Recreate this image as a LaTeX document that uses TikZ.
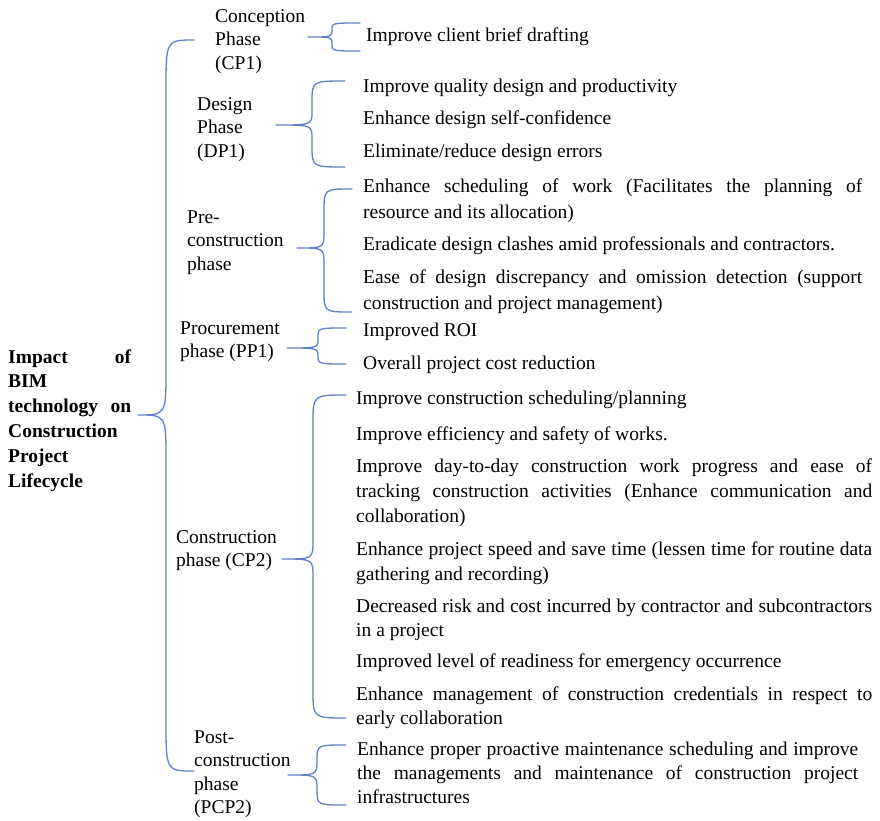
\documentclass[tikz,border=0pt]{standalone}
\usepackage{fontspec}
\setmainfont{Liberation Serif}

\definecolor{bracecol}{RGB}{96,130,196}

% one fully justified line inside a \parbox
\newcommand\jl[1]{\makebox[\linewidth][s]{\spaceskip=.25em plus 1fil minus .06em\relax #1}}

% curly brace opening to the right:
% #1 tip x, #2 tip y, #3 spine x, #4 end x, #5 top y, #6 bottom y, #7 end bend, #8 middle bend
\newcommand\curly[8]{%
  \draw[bracestyle] (#4,#5) .. controls (#3,#5) .. (#3,#5+#7)
    -- (#3,#2-#8) .. controls (#3,#2) .. (#1,#2)
    .. controls (#3,#2) .. (#3,#2+#8)
    -- (#3,#6-#7) .. controls (#3,#6) .. (#4,#6);}

\begin{document}
\begin{tikzpicture}[x=1pt,y=-1pt,
  bracestyle/.style={draw=bracecol,line width=1.3pt,line cap=round,line join=round},
  item/.style={inner sep=0pt,anchor=base west,font=\fontsize{19.5}{25}\selectfont},
  phase/.style={inner sep=0pt,anchor=base west,font=\fontsize{19.5}{23.6}\selectfont},
  root/.style={inner sep=0pt,anchor=base west,font=\fontsize{19.5}{24.8}\selectfont\bfseries}]

\useasboundingbox[fill=white] (0,0) rectangle (880,820);

% root label
\node[root] (impact) at (8,363) {\parbox[t]{123pt}{\jl{Impact of}\\BIM\\\jl{technology on}\\Construction\\Project\\Lifecycle}};

% phase labels
\node[phase] (cp1)  at (215,22)  {\parbox[t]{110pt}{Conception\\Phase\\(CP1)}};
\node[phase] (dp1)  at (197,110) {\parbox[t]{80pt}{Design\\Phase\\(DP1)}};
\node[phase] (pre)  at (187,223) {\parbox[t]{110pt}{Pre-\\construction\\phase}};
\node[phase] (pp1)  at (180,334) {\parbox[t]{115pt}{Procurement\\phase (PP1)}};
\node[phase] (cp2)  at (176,543) {\parbox[t]{115pt}{Construction\\phase (CP2)}};
\node[phase] (pcp2) at (194,743) {\parbox[t]{110pt}{Post-\\construction\\phase\\(PCP2)}};

% braces
\curly{138}{415}{166}{194}{40}{771}{50}{45}
\curly{308}{37}{332}{360}{23}{51}{7}{7}
\curly{276}{125}{312}{345}{81}{167}{22}{14}
\curly{297}{248}{324}{352}{189}{312}{22}{16}
\curly{287}{348}{318}{346}{328}{364}{9}{9}
\curly{282}{559}{313}{346}{395}{718}{28}{18}
\curly{288}{775}{317}{346}{745}{805}{15}{15}

% conception phase
\node[item] (cp1a) at (366,41) {Improve client brief drafting};

% design phase
\node[item] (dp1a) at (363,92)  {Improve quality design and productivity};
\node[item] (dp1b) at (363,124) {Enhance design self-confidence};
\node[item] (dp1c) at (363,157) {Eliminate/reduce design errors};

% pre-construction phase
\node[item,font=\fontsize{19.5}{26}\selectfont] (prea) at (363,192) {\parbox[t]{499pt}{\jl{Enhance scheduling of work (Facilitates the planning of}\\resource and its allocation)}};
\node[item] (preb) at (363,250) {Eradicate design clashes amid professionals and contractors.};
\node[item,font=\fontsize{19.5}{26}\selectfont] (prec) at (363,283) {\parbox[t]{499pt}{\jl{Ease of design discrepancy and omission detection (support}\\construction and project management)}};

% procurement phase
\node[item] (pp1a) at (363,336) {Improved ROI};
\node[item] (pp1b) at (363,369) {Overall project cost reduction};

% construction phase
\node[item] (cp2a) at (356,404) {Improve construction scheduling/planning};
\node[item] (cp2b) at (356,440) {Improve efficiency and safety of works.};
\node[item] (cp2c) at (356,472) {\parbox[t]{516pt}{\jl{Improve day-to-day construction work progress and ease of}\\\jl{tracking construction activities (Enhance communication and}\\collaboration)}};
\node[item] (cp2d) at (356,555) {\parbox[t]{516pt}{\jl{Enhance project speed and save time (lessen time for routine data}\\gathering and recording)}};
\node[item,font=\fontsize{19.5}{24}\selectfont] (cp2e) at (356,612) {\parbox[t]{516pt}{\jl{Decreased risk and cost incurred by contractor and subcontractors}\\in a project}};
\node[item] (cp2f) at (356,667) {Improved level of readiness for emergency occurrence};
\node[item,font=\fontsize{19.5}{24}\selectfont] (cp2g) at (356,700) {\parbox[t]{516pt}{\jl{Enhance management of construction credentials in respect to}\\early collaboration}};

% post-construction phase
\node[item,font=\fontsize{19.5}{24}\selectfont] (pcp2a) at (357,755) {\parbox[t]{501pt}{\jl{Enhance proper proactive maintenance scheduling and improve}\\\jl{the managements and maintenance of construction project}\\infrastructures}};

\end{tikzpicture}
\end{document}
